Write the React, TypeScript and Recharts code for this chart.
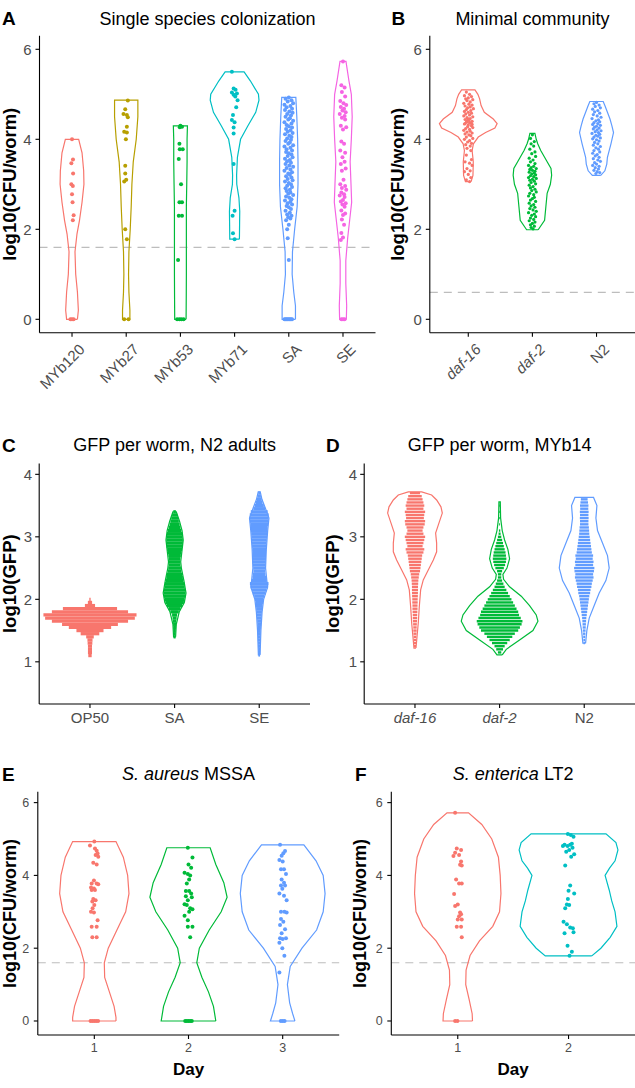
import React from 'react';
import { ScatterChart, Scatter, XAxis, YAxis, ReferenceLine, ErrorBar } from 'recharts';

const FONT = '"Liberation Sans", Arial, Helvetica, sans-serif';
const GREY = '#4D4D4D';

const hue6 = ['#F8766D', '#B79F00', '#00BA38', '#00BFC4', '#619CFF', '#F564E3'];
const hue3 = ['#F8766D', '#00BA38', '#619CFF'];
const hue2 = ['#F8766D', '#00BFC4'];

// ---------- A: single species colonization ----------
const catsA = ['MYb120', 'MYb27', 'MYb53', 'MYb71', 'SA', 'SE'];
// violin profiles: [log10 value, half width in category units]
const violinA = [
  [[0, .1], [0.2, .117], [0.6, .1], [1.0, .068], [1.5, .055], [1.9, .092], [2.2, .138], [2.6, .185], [3.0, .22], [3.3, .215], [3.7, .185], [4.0, .123]],
  [[0, .068], [0.2, .068], [0.6, .05], [1.0, .043], [1.5, .05], [2.0, .074], [2.5, .092], [3.0, .105], [3.5, .13], [4.0, .185], [4.5, .215], [4.87, .215]],
  [[0, .105], [0.5, .108], [1.0, .11], [1.5, .11], [2.0, .11], [2.5, .11], [3.0, .117], [3.5, .123], [4.0, .123], [4.3, .13]],
  [[1.78, .089], [2.1, .092], [2.4, .095], [2.7, .08], [3.0, .04], [3.2, .037], [3.6, .052], [4.0, .11], [4.3, .246], [4.6, .39], [4.87, .45], [5.0, .44], [5.3, .29], [5.5, .175]],
  [[0, .123], [0.3, .123], [0.6, .092], [1.0, .062], [1.5, .068], [2.0, .108], [2.5, .154], [3.0, .17], [3.5, .17], [4.0, .163], [4.5, .148], [4.93, .13]],
  [[0, .062], [0.3, .068], [0.8, .052], [1.3, .052], [1.8, .086], [2.2, .123], [2.6, .16], [3.0, .148], [3.5, .132], [4.0, .154], [4.5, .17], [5.0, .154], [5.3, .11], [5.73, .055]],
];
// jittered worms: [x offset, log10 value]
const myb120 = [[0, 4.0], [.018, 3.55], [-.012, 3.47], [.02, 3.24], [-.012, 3.0], [.015, 2.96], [0, 2.78], [.01, 2.6], [.03, 2.31], [.015, 2.2], [-.03, 0], [0, 0], [.03, 0]];
const myb27 = [[.03, 4.86], [-.018, 4.67], [-.05, 4.56], [.012, 4.54], [.03, 4.49], [.012, 4.28], [-.037, 4.17], [.012, 4.15], [-.006, 4.0], [-.018, 3.41], [-.018, 3.24], [0, 3.1], [-.037, 3.06], [-.018, 2.0], [.012, 1.78], [-.037, 0], [.043, 0]];
const myb53 = [[0, 4.3], [.03, 4.28], [-.012, 4.27], [-.018, 3.9], [-.012, 3.78], [.043, 3.78], [-.03, 3.56], [.012, 3.0], [-.018, 2.6], [.03, 2.6], [-.03, 2.3], [.03, 2.3], [-.043, 1.32], [-.06, 0], [-.018, 0], [.018, 0], [.06, 0]];
const myb71 = [[-.05, 5.5], [-.018, 5.13], [.018, 5.1], [-.05, 5.04], [.043, 5.02], [-.018, 4.99], [.012, 4.95], [.055, 4.87], [.03, 4.71], [-.03, 4.54], [-.05, 4.43], [0, 4.38], [-.018, 4.26], [-.018, 4.13], [-.018, 3.45], [0, 2.41], [-.037, 2.3], [-.03, 1.91], [0, 1.78]];
const saA = [[0, 4.93], [-.06, 4.9], [.05, 4.87], [-.02, 4.84], [.08, 4.8], [-.08, 4.77], [.03, 4.74], [-.04, 4.71], [.06, 4.68], [-.07, 4.65], [.01, 4.62], [.07, 4.59], [-.03, 4.56], [.04, 4.53], [-.06, 4.5], [.02, 4.47], [-.01, 4.44], [.08, 4.41], [-.08, 4.38], [.05, 4.35], [-.04, 4.32], [0, 4.29], [.06, 4.26], [-.05, 4.23], [.03, 4.2], [-.02, 4.17], [.07, 4.14], [-.07, 4.11], [.01, 4.08], [.05, 4.05], [-.03, 4.02], [.04, 3.99], [-.06, 3.96], [.02, 3.93], [-.01, 3.9], [.08, 3.87], [-.08, 3.84], [.03, 3.81], [-.04, 3.78], [.06, 3.75], [-.05, 3.72], [0, 3.69], [.05, 3.66], [-.02, 3.63], [.07, 3.6], [-.07, 3.57], [.02, 3.54], [-.03, 3.51], [.04, 3.48], [-.06, 3.45], [.01, 3.42], [.08, 3.39], [-.04, 3.36], [.03, 3.33], [-.08, 3.3], [.06, 3.27], [-.01, 3.24], [.02, 3.21], [-.05, 3.18], [.05, 3.15], [-.02, 3.12], [.07, 3.09], [-.07, 3.06], [0, 3.03], [.04, 3.0], [-.03, 2.97], [.06, 2.94], [-.06, 2.91], [.02, 2.88], [-.04, 2.85], [.03, 2.82], [-.01, 2.79], [.08, 2.76], [-.05, 2.73], [.01, 2.7], [.05, 2.67], [-.07, 2.64], [.03, 2.61], [-.02, 2.58], [.06, 2.55], [-.04, 2.52], [0, 2.49], [.04, 2.45], [-.06, 2.41], [.02, 2.37], [-.03, 2.33], [.05, 2.3], [-.01, 2.27], [.03, 2.24], [-.05, 2.2], [0, 2.1], [-.03, 2.0], [-.02, 1.8], [0, 1.32], [-.08, 0], [-.06, 0], [-.04, 0], [-.02, 0], [0, 0], [.02, 0], [.04, 0], [.06, 0]];
const seA = [[0, 5.73], [-.03, 5.2], [.03, 5.15], [-.02, 5.05], [.04, 4.95], [-.05, 4.85], [.01, 4.8], [.06, 4.76], [-.04, 4.72], [.02, 4.68], [-.01, 4.64], [.05, 4.6], [-.06, 4.56], [.03, 4.52], [-.02, 4.48], [.04, 4.44], [-.04, 4.3], [.06, 4.27], [0, 4.22], [-.03, 3.95], [.02, 3.9], [-.05, 3.75], [.04, 3.7], [-.01, 3.6], [.03, 3.5], [-.04, 3.45], [.05, 3.35], [-.02, 3.3], [.01, 3.1], [-.05, 3.0], [.04, 2.96], [-.02, 2.92], [.06, 2.88], [-.03, 2.82], [.02, 2.78], [-.06, 2.75], [.03, 2.72], [0, 2.65], [-.04, 2.62], [.05, 2.58], [-.01, 2.55], [.03, 2.5], [-.03, 2.42], [.04, 2.35], [0, 2.32], [-.02, 2.22], [.02, 2.1], [-.03, 1.92], [0, 1.82], [-.04, 1.76], [-.03, 0], [0, 0], [.03, 0]];
const pointsA = [myb120, myb27, myb53, myb71, saA, seA];

// ---------- B: minimal community ----------
const catsB = ['daf-16', 'daf-2', 'N2'];
const italicB = [true, true, false];
const violinB = [
  [[3.06, .044], [3.2, .073], [3.5, .078], [3.75, .06], [3.9, .08], [4.05, .156], [4.15, .27], [4.25, .415], [4.35, .45], [4.45, .39], [4.6, .25], [4.75, .2], [4.9, .177], [5.0, .15], [5.1, .104]],
  [[1.99, .09], [2.2, .19], [2.5, .21], [2.8, .23], [3.0, .28], [3.2, .3], [3.35, .29], [3.5, .23], [3.6, .19], [3.75, .13], [3.9, .083], [4.0, .06], [4.13, .039]],
  [[3.2, .065], [3.3, .13], [3.45, .16], [3.6, .17], [3.9, .225], [4.15, .265], [4.3, .24], [4.45, .21], [4.6, .17], [4.75, .13], [4.84, .104]],
];
const daf16B = [[-.03, 5.05], [.02, 5.0], [-.06, 4.97], [.05, 4.95], [0, 4.92], [-.04, 4.9], [.07, 4.88], [-.02, 4.86], [.03, 4.83], [-.07, 4.8], [.01, 4.78], [.06, 4.76], [-.05, 4.74], [.03, 4.72], [-.01, 4.7], [.08, 4.68], [-.03, 4.66], [.04, 4.64], [-.06, 4.62], [0, 4.6], [.05, 4.58], [-.04, 4.56], [.02, 4.54], [-.07, 4.52], [.07, 4.5], [-.02, 4.48], [.03, 4.46], [0, 4.45], [-.05, 4.44], [.01, 4.42], [-.02, 4.41], [.06, 4.4], [-.03, 4.38], [.02, 4.37], [.04, 4.36], [-.05, 4.35], [-.06, 4.34], [.06, 4.33], [0, 4.32], [.05, 4.3], [-.01, 4.28], [.07, 4.26], [-.04, 4.24], [.02, 4.22], [-.07, 4.2], [.03, 4.18], [-.02, 4.16], [.06, 4.14], [-.05, 4.12], [.01, 4.1], [.04, 4.08], [-.03, 4.05], [.07, 4.02], [-.06, 4.0], [.02, 3.97], [-.01, 3.94], [.05, 3.91], [-.04, 3.88], [.03, 3.85], [-.02, 3.8], [.04, 3.75], [-.03, 3.65], [.05, 3.55], [-.05, 3.5], [.02, 3.47], [.06, 3.42], [-.02, 3.35], [.03, 3.3], [-.06, 3.28], [0, 3.22], [.04, 3.15], [-.03, 3.1], [.02, 3.06]];
const daf2B = [[0, 4.1], [-.03, 4.02], [.03, 3.95], [-.02, 3.9], [.02, 3.85], [-.04, 3.78], [.04, 3.72], [-.01, 3.68], [.05, 3.62], [-.05, 3.58], [.01, 3.54], [-.03, 3.5], [.04, 3.46], [-.06, 3.42], [.02, 3.4], [-.02, 3.37], [.06, 3.35], [-.04, 3.33], [0, 3.31], [.04, 3.29], [-.05, 3.27], [.03, 3.25], [-.01, 3.23], [.05, 3.21], [-.03, 3.19], [.02, 3.17], [-.06, 3.15], [.06, 3.13], [0, 3.11], [-.04, 3.09], [.03, 3.07], [-.02, 3.04], [.05, 3.01], [-.05, 2.98], [.01, 2.95], [-.03, 2.92], [.04, 2.89], [-.01, 2.86], [.06, 2.83], [-.04, 2.8], [.02, 2.77], [-.06, 2.74], [.03, 2.71], [0, 2.68], [-.03, 2.65], [.05, 2.62], [-.05, 2.58], [.02, 2.55], [-.02, 2.52], [.04, 2.49], [-.04, 2.46], [.01, 2.43], [.06, 2.4], [-.06, 2.37], [.03, 2.34], [-.01, 2.31], [.05, 2.28], [-.03, 2.25], [.02, 2.22], [-.05, 2.19], [.04, 2.16], [0, 2.13], [-.03, 2.1], [.03, 2.07], [-.02, 2.04], [.01, 2.01]];
const n2B = [[0, 4.82], [-.04, 4.79], [.04, 4.76], [-.02, 4.73], [.06, 4.7], [-.06, 4.67], [.02, 4.64], [-.03, 4.61], [.05, 4.58], [-.05, 4.55], [.01, 4.52], [.07, 4.49], [-.07, 4.46], [.03, 4.43], [-.01, 4.41], [.05, 4.39], [-.04, 4.37], [.02, 4.35], [-.06, 4.33], [.06, 4.31], [0, 4.29], [-.03, 4.27], [.04, 4.25], [-.05, 4.23], [.01, 4.21], [.07, 4.19], [-.02, 4.17], [.03, 4.15], [-.07, 4.13], [.05, 4.11], [-.01, 4.09], [.02, 4.07], [-.04, 4.05], [.06, 4.03], [-.06, 4.01], [0, 3.99], [.04, 3.96], [-.03, 3.93], [.02, 3.9], [-.05, 3.87], [.06, 3.84], [-.01, 3.81], [.03, 3.78], [-.04, 3.75], [.05, 3.72], [-.06, 3.69], [.01, 3.66], [-.02, 3.63], [.04, 3.6], [-.05, 3.57], [.02, 3.54], [.06, 3.51], [-.03, 3.48], [0, 3.45], [-.06, 3.42], [.04, 3.4], [-.02, 3.37], [.03, 3.34], [-.04, 3.31], [.01, 3.28], [.05, 3.26], [-.01, 3.24]];
const pointsB = [daf16B, daf2B, n2B];

// ---------- C: GFP per worm, N2 adults ----------
const catsC = ['OP50', 'SA', 'SE'];
const violinC = [
  null,
  [[1.4, .012], [1.6, .02], [1.8, .055], [1.95, .115], [2.1, .135], [2.3, .11], [2.5, .08], [2.6, .072], [2.75, .085], [2.95, .102], [3.1, .088], [3.25, .058], [3.4, .02]],
  [[1.11, .01], [1.5, .02], [1.8, .034], [2.0, .052], [2.2, .1], [2.3, .09], [2.5, .075], [2.8, .084], [3.1, .1], [3.3, .115], [3.45, .075], [3.6, .032], [3.72, .012]],
];
// beeswarm rows: [log10 GFP, half width of row]
const op50Rows = [[1.10, .02], [1.15, .024], [1.20, .024], [1.25, .024], [1.30, .028], [1.35, .03], [1.40, .045], [1.45, .11], [1.50, .16], [1.55, .25], [1.60, .33], [1.65, .45], [1.70, .53], [1.75, .55], [1.80, .45], [1.85, .32], [1.90, .06], [1.95, .025], [2.00, .008]];
const saRows = [[1.40, .012], [1.45, .012], [1.50, .014], [1.55, .016], [1.60, .018], [1.65, .02], [1.70, .024], [1.75, .03], [1.80, .05], [1.85, .07], [1.90, .09], [1.95, .11], [2.00, .118], [2.05, .125], [2.10, .13], [2.15, .125], [2.20, .12], [2.25, .115], [2.30, .105], [2.35, .098], [2.40, .09], [2.45, .08], [2.50, .075], [2.55, .068], [2.60, .066], [2.65, .068], [2.70, .074], [2.75, .082], [2.80, .088], [2.85, .094], [2.90, .098], [2.95, .098], [3.00, .096], [3.05, .09], [3.10, .08], [3.15, .07], [3.20, .06], [3.25, .05], [3.30, .04], [3.35, .03], [3.40, .015]];
const seRows = [[1.11, .01], [1.15, .012], [1.20, .012], [1.25, .014], [1.30, .014], [1.35, .016], [1.40, .016], [1.45, .018], [1.50, .018], [1.55, .02], [1.60, .022], [1.65, .024], [1.70, .026], [1.75, .03], [1.80, .032], [1.85, .036], [1.90, .04], [1.95, .045], [2.00, .05], [2.05, .06], [2.10, .075], [2.15, .085], [2.20, .1], [2.25, .11], [2.30, .09], [2.35, .08], [2.40, .074], [2.45, .07], [2.50, .072], [2.55, .075], [2.60, .078], [2.65, .08], [2.70, .08], [2.75, .08], [2.80, .082], [2.85, .085], [2.90, .087], [2.95, .09], [3.00, .092], [3.05, .095], [3.10, .098], [3.15, .1], [3.20, .105], [3.25, .11], [3.30, .112], [3.35, .112], [3.40, .1], [3.45, .07], [3.50, .055], [3.55, .04], [3.60, .03], [3.65, .02], [3.70, .012]];
const rowsC = [op50Rows, saRows, seRows];

// ---------- D: GFP per worm, MYb14 ----------
const catsD = ['daf-16', 'daf-2', 'N2'];
const italicD = [true, true, false];
const violinD = [
  [[1.22, .012], [1.4, .024], [1.62, .039], [1.88, .051], [2.15, .067], [2.31, .098], [2.47, .157], [2.63, .217], [2.76, .256], [2.9, .256], [3.06, .244], [3.22, .283], [3.38, .323], [3.48, .307], [3.59, .256], [3.67, .197], [3.72, .079]],
  [[1.11, .031], [1.2, .079], [1.35, .236], [1.5, .394], [1.65, .453], [1.75, .433], [1.9, .354], [2.05, .256], [2.2, .118], [2.32, .047], [2.4, .039], [2.5, .087], [2.65, .118], [2.8, .098], [2.95, .059], [3.1, .031], [3.3, .012], [3.56, .008]],
  [[1.3, .016], [1.5, .031], [1.7, .059], [1.9, .118], [2.1, .177], [2.3, .256], [2.5, .295], [2.7, .275], [2.9, .216], [3.1, .157], [3.3, .138], [3.5, .15], [3.63, .11]],
];
const daf16Rows = [[1.25, .012], [1.30, .014], [1.35, .016], [1.40, .016], [1.45, .018], [1.50, .02], [1.55, .02], [1.60, .022], [1.65, .024], [1.70, .026], [1.75, .026], [1.80, .028], [1.85, .03], [1.90, .03], [1.95, .032], [2.00, .032], [2.05, .034], [2.10, .035], [2.15, .036], [2.20, .036], [2.25, .038], [2.30, .04], [2.35, .045], [2.40, .05], [2.45, .06], [2.50, .065], [2.55, .07], [2.60, .075], [2.65, .08], [2.70, .085], [2.75, .1], [2.80, .11], [2.85, .09], [2.90, .1], [2.95, .11], [3.00, .12], [3.05, .1], [3.10, .09], [3.15, .1], [3.20, .115], [3.25, .12], [3.30, .105], [3.35, .11], [3.40, .12], [3.45, .1], [3.50, .11], [3.55, .1], [3.60, .09], [3.65, .08], [3.70, .06]];
const daf2Rows = [[1.15, .02], [1.20, .04], [1.25, .06], [1.30, .09], [1.35, .12], [1.40, .15], [1.45, .18], [1.50, .22], [1.55, .24], [1.60, .26], [1.65, .27], [1.70, .25], [1.75, .23], [1.80, .22], [1.85, .2], [1.90, .18], [1.95, .16], [2.00, .14], [2.05, .12], [2.10, .1], [2.15, .08], [2.20, .06], [2.25, .045], [2.30, .03], [2.35, .02], [2.40, .02], [2.45, .03], [2.50, .05], [2.55, .065], [2.60, .075], [2.65, .08], [2.70, .075], [2.75, .07], [2.80, .06], [2.85, .05], [2.90, .04], [2.95, .03], [3.00, .02], [3.05, .012], [3.10, .008], [3.20, .005], [3.30, .004], [3.40, .004], [3.50, .004]];
const n2Rows = [[1.30, .008], [1.35, .01], [1.40, .012], [1.45, .014], [1.50, .016], [1.55, .018], [1.60, .02], [1.65, .022], [1.70, .025], [1.75, .03], [1.80, .035], [1.85, .04], [1.90, .045], [1.95, .05], [2.00, .055], [2.05, .06], [2.10, .07], [2.15, .075], [2.20, .085], [2.25, .09], [2.30, .1], [2.35, .11], [2.40, .105], [2.45, .115], [2.50, .12], [2.55, .105], [2.60, .11], [2.65, .1], [2.70, .105], [2.75, .09], [2.80, .085], [2.85, .08], [2.90, .075], [2.95, .07], [3.00, .065], [3.05, .06], [3.10, .058], [3.15, .055], [3.20, .05], [3.25, .05], [3.30, .052], [3.35, .05], [3.40, .052], [3.45, .048], [3.50, .05], [3.55, .045], [3.60, .04]];
const rowsD = [daf16Rows, daf2Rows, n2Rows];

// ---------- E: S. aureus MSSA ----------
const daysE = ['1', '2', '3'];
const violinE = [
  [[0, .23], [0.1, .23], [0.4, .21], [0.8, .16], [1.2, .11], [1.6, .106], [2.0, .148], [2.5, .24], [3.0, .333], [3.5, .368], [4.0, .354], [4.5, .308], [4.93, .23]],
  [[0, .29], [0.4, .265], [0.8, .212], [1.2, .142], [1.6, .088], [2.0, .115], [2.5, .22], [3.0, .347], [3.4, .41], [3.8, .375], [4.3, .29], [4.76, .23]],
  [[0, .13], [0.2, .106], [0.5, .074], [1.0, .05], [1.5, .08], [2.0, .205], [2.5, .36], [3.0, .43], [3.5, .45], [4.0, .43], [4.4, .354], [4.84, .225]],
];
const day1E = [[0, 4.93], [-.046, 4.82], [.007, 4.74], [.025, 4.68], [.035, 4.6], [.014, 4.56], [.042, 4.51], [-.011, 4.35], [.025, 4.3], [-.004, 3.86], [-.028, 3.78], [.025, 3.78], [.042, 3.76], [-.035, 3.67], [-.004, 3.64], [-.028, 3.6], [.007, 3.6], [-.011, 3.35], [.014, 3.32], [-.021, 3.28], [0, 3.19], [-.018, 3.1], [-.035, 3.0], [-.004, 2.98], [.035, 2.77], [-.028, 2.59], [.025, 2.59], [-.021, 2.3], [.025, 2.3], [-.04, 0], [-.02, 0], [0, 0], [.02, 0], [.04, 0]];
const day2E = [[-.007, 4.76], [.042, 4.49], [0, 4.3], [.028, 4.21], [-.042, 4.07], [-.007, 4.04], [.018, 4.0], [.007, 3.89], [-.018, 3.78], [-.028, 3.57], [.007, 3.57], [.028, 3.5], [-.028, 3.43], [.035, 3.4], [-.007, 3.32], [-.042, 3.21], [-.018, 3.19], [.018, 3.1], [.042, 3.07], [.007, 3.0], [-.042, 2.89], [-.007, 2.77], [-.007, 2.59], [.042, 2.59], [.018, 2.3], [-.035, 0], [-.018, 0], [0, 0], [.018, 0], [.035, 0]];
const day3E = [[-.028, 4.84], [.025, 4.67], [.007, 4.61], [-.011, 4.54], [-.035, 4.42], [0, 4.38], [-.018, 4.17], [.014, 4.17], [.035, 4.04], [-.011, 3.89], [.014, 3.8], [-.018, 3.72], [.025, 3.72], [-.004, 3.63], [-.035, 3.5], [.014, 3.44], [.042, 3.32], [-.018, 3.0], [.018, 3.0], [.042, 2.98], [-.018, 2.8], [.007, 2.73], [-.028, 2.64], [.025, 2.52], [-.011, 2.41], [-.028, 2.27], [0, 2.25], [.035, 2.27], [-.035, 2.15], [-.004, 2.0], [.018, 1.79], [-.035, 1.33], [-.02, 0], [0, 0], [.02, 0]];
const pointsE = [day1E, day2E, day3E];

// ---------- F: S. enterica LT2 ----------
const daysF = ['1', '2'];
const violinF = [
  [[0, .133], [0.2, .13], [0.6, .102], [1.0, .072], [1.4, .075], [1.8, .111], [2.2, .196], [2.6, .316], [3.0, .377], [3.5, .39], [4.0, .383], [4.5, .367], [5.0, .307], [5.4, .217], [5.72, .097]],
  [[1.79, .21], [2.0, .292], [2.3, .376], [2.6, .437], [3.0, .42], [3.3, .39], [3.6, .367], [4.0, .33], [4.2, .37], [4.4, .42], [4.7, .446], [4.9, .428], [5.14, .338]],
];
const day1F = [[-.024, 5.72], [-.009, 4.74], [.03, 4.7], [-.024, 4.62], [.012, 4.56], [-.039, 4.53], [.03, 4.38], [.021, 4.29], [.036, 4.27], [-.015, 3.89], [.012, 3.78], [.036, 3.78], [-.033, 3.49], [0, 3.2], [-.024, 3.16], [.021, 2.98], [.03, 2.93], [.012, 2.88], [0, 2.79], [.036, 2.79], [-.009, 2.59], [.03, 2.59], [.036, 2.3], [-.024, 0], [-.003, 0]];
const day2F = [[-.006, 5.14], [.021, 5.11], [.045, 5.06], [.03, 4.87], [-.036, 4.84], [.015, 4.84], [-.009, 4.81], [-.051, 4.81], [.036, 4.76], [.006, 4.7], [-.021, 4.65], [.051, 4.58], [.024, 4.51], [-.03, 4.27], [.015, 3.72], [0, 3.58], [.051, 3.5], [-.006, 3.35], [-.015, 3.2], [.006, 3.19], [-.03, 3.1], [-.045, 2.73], [-.015, 2.66], [.015, 2.57], [.039, 2.55], [.045, 2.44], [-.036, 2.41], [-.009, 2.07], [.03, 1.9], [.009, 1.79]];
const pointsF = [day1F, day2F];

// ---------- drawing ----------
const outline = (c: number, prof: number[][]) => [
  ...prof.map(([y, w]) => ({ x: c + w, y })),
  ...[...prof].reverse().map(([y, w]) => ({ x: c - w, y })),
  { x: c + prof[0][1], y: prof[0][0] },
];

const noDot = () => <g />;
const axisStyle = { stroke: '#000', strokeWidth: 1.1 };

function XTick(props: any) {
  const { x, y, payload, names, italic, rotate, size } = props;
  const i = Math.round(payload.value) - 1;
  const style = italic && italic[i] ? 'italic' : 'normal';
  if (rotate) {
    return (
      <text transform={`translate(${x + 6},${y}) rotate(-45)`} textAnchor="end" dy="0.72em" fill={GREY} fontSize={size} fontFamily={FONT} fontStyle={style}>
        {names[i]}
      </text>
    );
  }
  return (
    <text x={x} y={y} textAnchor="middle" dy="0.72em" fill={GREY} fontSize={size} fontFamily={FONT} fontStyle={style}>
      {names[i]}
    </text>
  );
}

function Panel(p: any) {
  const [left, top, W, H] = p.box;
  const [x0, y0, x1, y1] = p.plot;
  const n = p.cats.length;
  return (
    <div style={{ position: 'absolute', left, top }}>
      <ScatterChart width={W} height={H} margin={{ top: y0 - top, right: left + W - x1, bottom: 0, left: 0 }}>
        <XAxis
          type="number" dataKey="x" domain={[0.4, n + 0.6]} ticks={p.cats.map((_: string, i: number) => i + 1)}
          interval={0} allowDataOverflow height={top + H - y1} tickSize={4} tickMargin={p.rotate ? 6 : 4}
          axisLine={axisStyle} tickLine={axisStyle}
          tick={(t: any) => <XTick {...t} names={p.cats} italic={p.italic} rotate={p.rotate} size={p.xFont} />}
        />
        <YAxis
          type="number" dataKey="y" domain={p.yDomain} ticks={p.yTicks} interval={0} allowDataOverflow
          width={x0 - left} tickSize={4} tickMargin={p.yMargin} axisLine={axisStyle} tickLine={axisStyle}
          tick={{ fill: GREY, fontSize: p.yFont, fontFamily: FONT }}
        />
        {p.hline !== undefined && (
          <ReferenceLine y={p.hline} stroke="#BDBDBD" strokeWidth={1.2} strokeDasharray="8 6" />
        )}
        {p.violins.map((v: number[][] | null, i: number) => v && (
          <Scatter key={'v' + i} data={outline(i + 1, v)} line={{ stroke: p.colors[i], strokeWidth: 1.2 }} shape={noDot} isAnimationActive={false} />
        ))}
        {p.rows && p.rows.map((r: number[][], i: number) => (
          <Scatter key={'r' + i} data={r.map(([y, w]) => ({ x: i + 1, y, w }))} shape={noDot} isAnimationActive={false}>
            <ErrorBar dataKey="w" direction="x" width={0} stroke={p.colors[i]} strokeWidth={p.rowWidth} isAnimationActive={false} />
          </Scatter>
        ))}
        {p.points && p.points.map((pts: number[][], i: number) => (
          <Scatter
            key={'p' + i} data={pts.map(([dx, y]) => ({ x: i + 1 + dx, y }))} isAnimationActive={false}
            shape={(d: any) => <circle cx={d.cx} cy={d.cy} r={p.r} fill={p.colors[i]} />}
          />
        ))}
      </ScatterChart>
    </div>
  );
}

export default function App() {
  const t = { fontFamily: FONT, fill: '#000' };
  return (
    <div style={{ position: 'absolute', left: 0, top: 0, width: 635, height: 1088, background: '#fff', overflow: 'hidden' }}>
      <Panel box={[0, 0, 380, 400]} plot={[39.5, 35.8, 375.5, 332.8]} cats={catsA} rotate colors={hue6}
        yDomain={[-0.3, 6.3]} yTicks={[0, 2, 4, 6]} yFont={15} yMargin={4} xFont={15}
        violins={violinA} points={pointsA} r={2} hline={1.6} />
      <Panel box={[380, 0, 255, 400]} plot={[429.8, 35.8, 635, 332.8]} cats={catsB} italic={italicB} rotate colors={hue3}
        yDomain={[-0.3, 6.3]} yTicks={[0, 2, 4, 6]} yFont={15} yMargin={4} xFont={15}
        violins={violinB} points={pointsB} r={1.6} hline={0.6} />
      <Panel box={[0, 400, 320, 340]} plot={[39.2, 463.4, 310, 704]} cats={catsC} colors={hue3}
        yDomain={[0.325, 4.175]} yTicks={[1, 2, 3, 4]} yFont={15} yMargin={3} xFont={15}
        violins={violinC} rows={rowsC} rowWidth={3.3} />
      <Panel box={[322, 400, 313, 340]} plot={[364.2, 463.4, 635, 704]} cats={catsD} italic={italicD} colors={hue3}
        yDomain={[0.325, 4.175]} yTicks={[1, 2, 3, 4]} yFont={15} yMargin={3} xFont={15}
        violins={violinD} rows={rowsD} rowWidth={2.4} />
      <Panel box={[0, 740, 345, 348]} plot={[37.8, 791.7, 339.2, 1035]} cats={daysE} colors={hue3}
        yDomain={[-0.385, 6.3]} yTicks={[0, 2, 4, 6]} yFont={12.5} yMargin={4.5} xFont={12.5}
        violins={violinE} points={pointsE} r={2} hline={1.6} />
      <Panel box={[345, 740, 290, 348]} plot={[391.3, 791.7, 635, 1035]} cats={daysF} colors={hue2}
        yDomain={[-0.385, 6.3]} yTicks={[0, 2, 4, 6]} yFont={12.5} yMargin={4.5} xFont={12.5}
        violins={violinF} points={pointsF} r={2} hline={1.6} />

      <svg width={635} height={1088} style={{ position: 'absolute', left: 0, top: 0, pointerEvents: 'none' }}>
        <g {...t} fontSize={18}>
          <text x={207.5} y={24.6} textAnchor="middle">Single species colonization</text>
          <text x={532.4} y={24.6} textAnchor="middle">Minimal community</text>
          <text x={174.6} y={451} textAnchor="middle">GFP per worm, N2 adults</text>
          <text x={499.6} y={451} textAnchor="middle">GFP per worm, MYb14</text>
          <text x={188.5} y={780} textAnchor="middle"><tspan fontStyle="italic">S. aureus</tspan> MSSA</text>
          <text x={513.2} y={780} textAnchor="middle"><tspan fontStyle="italic">S. enterica</tspan> LT2</text>
        </g>
        <g {...t} fontSize={19} fontWeight="bold">
          <text x={2} y={25}>A</text>
          <text x={391.5} y={25}>B</text>
          <text x={2} y={451.5}>C</text>
          <text x={326} y={451.5}>D</text>
          <text x={2} y={781}>E</text>
          <text x={355} y={781}>F</text>
        </g>
        <g {...t} fontSize={18.5} fontWeight="bold" textAnchor="middle">
          <text transform="translate(15.5,184.3) rotate(-90)">log10(CFU/worm)</text>
          <text transform="translate(404.3,184.3) rotate(-90)">log10(CFU/worm)</text>
          <text transform="translate(15.5,583.7) rotate(-90)">log10(GFP)</text>
          <text transform="translate(339,583.7) rotate(-90)">log10(GFP)</text>
        </g>
        <g {...t} fontSize={18} fontWeight="bold" textAnchor="middle">
          <text transform="translate(15.5,913.4) rotate(-90)">log10(CFU/worm)</text>
          <text transform="translate(366,913.4) rotate(-90)">log10(CFU/worm)</text>
        </g>
        <g {...t} fontSize={17} fontWeight="bold" textAnchor="middle">
          <text x={188.5} y={1075}>Day</text>
          <text x={513.2} y={1075}>Day</text>
        </g>
      </svg>
    </div>
  );
}
